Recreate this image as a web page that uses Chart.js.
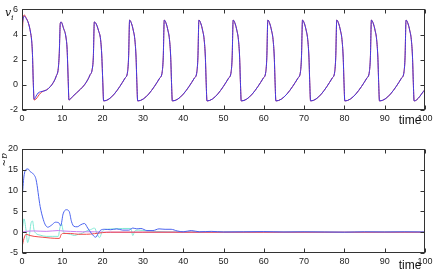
<!DOCTYPE html>
<html>
<head>
<meta charset="utf-8">
<script src="https://cdn.jsdelivr.net/npm/chart.js@4"></script>
<style>
  html, body { margin: 0; padding: 0; background: #fff; }
  #wrap { position: relative; width: 436px; height: 273px; }
  canvas { position: absolute; left: 0; }
  #c1 { top: 0; }
  #c2 { top: 130px; }
</style>
</head>
<body>
<div id="wrap">
  <canvas id="c1" width="436" height="130"></canvas>
  <canvas id="c2" width="436" height="143"></canvas>
</div>
<script>
// ejes
const xTicks = [0, 10, 20, 30, 40, 50, 60, 70, 80, 90, 100];
const yTicksTop = [-2, 0, 2, 4, 6];
const yTicksBottom = [-5, 0, 5, 10, 15, 20];

// panel superior: v_i
const tTop = [0, 0.3, 0.6, 1.0, 1.6, 2.1, 2.4, 2.6, 2.8, 3.0,
  3.4, 4.0, 4.6, 5.3, 6.1, 7.0, 7.8, 8.5, 9.0, 9.25,
  9.5, 9.7, 10.3, 10.9, 11.2, 11.45, 11.65, 12.5, 13.5, 14.5,
  15.5, 16.3, 16.9, 17.4, 17.7, 17.95, 18.4, 19.0, 19.5, 19.8,
  20.05, 20.25,
  25.6, 26.2, 26.45, 26.7, 27.2, 27.6, 28.0, 28.3, 28.5, 28.7,
  34.2, 34.8, 35.05, 35.3, 35.8, 36.2, 36.6, 36.9, 37.1, 37.3,
  42.8, 43.4, 43.65, 43.9, 44.4, 44.8, 45.2, 45.5, 45.7, 45.9,
  51.3, 51.9, 52.15, 52.4, 52.9, 53.3, 53.7, 54.0, 54.2, 54.4,
  59.9, 60.5, 60.75, 61.0, 61.5, 61.9, 62.3, 62.6, 62.8, 63.0,
  68.5, 69.1, 69.35, 69.6, 70.1, 70.5, 70.9, 71.2, 71.4, 71.6,
  77.0, 77.6, 77.85, 78.1, 78.6, 79.0, 79.4, 79.7, 79.9, 80.1,
  85.6, 86.2, 86.45, 86.7, 87.2, 87.6, 88.0, 88.3, 88.5, 88.7,
  94.2, 94.8, 95.05, 95.3, 95.8, 96.2, 96.6, 96.9, 97.1, 97.3,
  100];
const vBlue = [4.6, 5.3, 5.45, 5.3, 4.9, 4.2, 3.5, 2.4, 0.2, -1.15,
  -0.95, -0.65, -0.55, -0.5, -0.4, -0.15, 0.2, 0.7, 1.3, 2.5,
  4.9, 5.0, 4.5, 3.8, 2.8, 0.5, -1.2, -0.95, -0.65, -0.35,
  0.0, 0.4, 0.8, 1.2, 2.2, 5.0, 4.85, 4.3, 3.6, 2.3,
  0.2, -1.28,
  0.55, 1.05, 2.2, 5.15, 4.85, 4.35, 3.6, 2.2, 0.2, -1.28,
  0.55, 1.05, 2.2, 5.15, 4.85, 4.35, 3.6, 2.2, 0.2, -1.28,
  0.55, 1.05, 2.2, 5.15, 4.85, 4.35, 3.6, 2.2, 0.2, -1.28,
  0.55, 1.05, 2.2, 5.15, 4.85, 4.35, 3.6, 2.2, 0.2, -1.28,
  0.55, 1.05, 2.2, 5.15, 4.85, 4.35, 3.6, 2.2, 0.2, -1.28,
  0.55, 1.05, 2.2, 5.15, 4.85, 4.35, 3.6, 2.2, 0.2, -1.28,
  0.55, 1.05, 2.2, 5.15, 4.85, 4.35, 3.6, 2.2, 0.2, -1.28,
  0.55, 1.05, 2.2, 5.15, 4.85, 4.35, 3.6, 2.2, 0.2, -1.28,
  0.55, 1.05, 2.2, 5.15, 4.85, 4.35, 3.6, 2.2, 0.2, -1.28,
  -0.38];
const vRed = [3.2, 5.4, 5.55, 5.35, 4.9, 4.2, 3.5, 2.4, 0.2, -1.2,
  -1.15, -0.9, -0.65, -0.5, -0.4, -0.15, 0.2, 0.7, 1.3, 2.5,
  4.9, 5.0, 4.5, 3.8, 2.8, 0.5, -1.2, -0.95, -0.65, -0.35,
  0.0, 0.4, 0.8, 1.2, 2.2, 5.0, 4.85, 4.3, 3.6, 2.3,
  0.2, -1.28,
  0.55, 1.05, 2.2, 5.15, 4.85, 4.35, 3.6, 2.2, 0.2, -1.28,
  0.55, 1.05, 2.2, 5.15, 4.85, 4.35, 3.6, 2.2, 0.2, -1.28,
  0.55, 1.05, 2.2, 5.15, 4.85, 4.35, 3.6, 2.2, 0.2, -1.28,
  0.55, 1.05, 2.2, 5.15, 4.85, 4.35, 3.6, 2.2, 0.2, -1.28,
  0.55, 1.05, 2.2, 5.15, 4.85, 4.35, 3.6, 2.2, 0.2, -1.28,
  0.55, 1.05, 2.2, 5.15, 4.85, 4.35, 3.6, 2.2, 0.2, -1.28,
  0.55, 1.05, 2.2, 5.15, 4.85, 4.35, 3.6, 2.2, 0.2, -1.28,
  0.55, 1.05, 2.2, 5.15, 4.85, 4.35, 3.6, 2.2, 0.2, -1.28,
  0.55, 1.05, 2.2, 5.15, 4.85, 4.35, 3.6, 2.2, 0.2, -1.28,
  -0.38];

// panel inferior: a_i
const tBlueA = [0, 0.5, 1.0, 1.5, 2.0, 2.8, 3.5, 4.5, 5.3, 5.8,
  6.4, 7.4, 8.3, 9.2, 9.6, 10.2, 11.0, 11.7, 12.3, 12.9,
  13.7, 14.6, 15.5, 16.3, 17.2, 18.3, 18.8, 19.4, 20.5, 22,
  23.5, 25, 26.5, 27.5, 28.5, 29.5, 31, 32.5, 34, 35.5,
  37, 38.5, 40, 42, 44, 47, 50, 55, 60, 65,
  70, 75, 80, 85, 90, 95, 100];
const aBlue = [7.9, 13.5, 15.1, 15.2, 14.6, 14.0, 12.6, 6.2, 3.0, 1.75,
  1.2, 1.75, 2.4, 2.2, 1.5, 4.4, 5.4, 5.0, 2.5, 1.4,
  1.3, 1.8, 2.1, 1.0, -0.25, -1.2, -0.5, 0.4, 0.7, 0.6,
  0.8, 0.5, 0.5, 1.0, 0.8, 0.9, 0.4, 0.4, 0.8, 0.7,
  0.7, 0.3, 0.1, 0.4, 0.1, 0.2, 0.05, 0.1, 0.15, 0.05,
  0.1, 0.05, 0.0, 0.1, 0.05, 0.1, 0.05];

const tCyan = [0, 0.5, 1.0, 1.4, 1.8, 2.2, 2.6, 3.0, 3.5, 4.5,
  6, 7.5, 9, 9.4, 9.8, 10.3, 11, 12, 13, 14,
  15, 16, 17, 18, 18.6, 19.2, 20, 21, 23, 25,
  27, 27.5, 28, 29, 31, 33, 36, 40, 50, 60,
  70, 80, 90, 100];
const aCyan = [0, 3.2, 0.5, -2.5, -1.0, 2.0, 2.7, 0.5, -0.3, -0.7,
  -1.0, -1.0, -1.0, 1.0, 2.0, 0, -0.3, -0.5, -0.8, -0.5,
  -0.2, 0.3, 0.6, 1.0, -0.3, -1.3, 0.3, 0.7, 0.8, 0.9,
  0.9, -0.8, 0.3, 0.5, 0.3, 0.2, 0.1, 0.05, 0.1, 0.05,
  0.1, 0.0, 0.1, 0.0];

const tMag = [0, 1, 3, 6, 9, 10, 12, 15, 18, 20, 30, 50, 100];
const aMag = [0, 0.2, 0.3, 0.2, 0.4, 0.3, 0.2, 0.1, 0.1, 0, 0, 0, 0];

const tRedA = [0, 0.5, 1.0, 2, 3, 5, 7, 9.3, 9.7, 10.2,
  12, 14, 16, 18, 20, 22, 30, 40, 60, 80, 100];
const aRed = [-3.6, -1.5, -0.5, -0.8, -1.0, -1.2, -1.4, -1.5, -0.6, -0.3,
  -0.3, -0.5, -0.5, -0.35, -0.1, 0, 0, 0, 0, 0, 0];

function puntos(ts, vs) {
  return ts.map((t, i) => ({ x: t, y: vs[i] }));
}

function serie(ts, vs, color) {
  return {
    data: puntos(ts, vs),
    borderColor: color,
    borderWidth: 1,
    pointRadius: 0,
    cubicInterpolationMode: 'monotone',
    fill: false
  };
}

// marco tipo matlab con ticks hacia dentro
const marco = {
  id: 'marco',
  afterDraw(chart, args, opts) {
    const { ctx, chartArea: a, scales } = chart;
    const L = Math.round(a.left) + 0.5, R = Math.round(a.right) - 0.5;
    const T = Math.round(a.top) + 0.5, B = Math.round(a.bottom) - 0.5;
    ctx.save();
    ctx.strokeStyle = '#333';
    ctx.lineWidth = 1;
    ctx.strokeRect(L, T, R - L, B - T);
    ctx.beginPath();
    xTicks.forEach(v => {
      const px = Math.round(scales.x.getPixelForValue(v)) + 0.5;
      ctx.moveTo(px, B); ctx.lineTo(px, B - 4);
      ctx.moveTo(px, T); ctx.lineTo(px, T + 4);
    });
    opts.yTicks.forEach(v => {
      const py = Math.round(scales.y.getPixelForValue(v)) + 0.5;
      ctx.moveTo(L, py); ctx.lineTo(L + 4, py);
      ctx.moveTo(R, py); ctx.lineTo(R - 4, py);
    });
    ctx.stroke();

    ctx.fillStyle = '#111';
    ctx.font = '12px "Liberation Sans", Arial, sans-serif';
    ctx.textAlign = 'center';
    ctx.textBaseline = 'middle';
    ctx.fillText('time', a.right - 15, a.bottom + opts.timeDy);

    if (opts.label === 'v') {
      ctx.textAlign = 'left';
      ctx.textBaseline = 'alphabetic';
      ctx.font = 'italic 11px "DejaVu Serif", serif';
      ctx.fillText('v', 5, 16);
      ctx.font = 'italic 8px "DejaVu Serif", serif';
      ctx.fillText('i', 11, 20);
    } else {
      ctx.translate(2, 23);
      ctx.rotate(Math.PI / 2);
      ctx.textAlign = 'left';
      ctx.textBaseline = 'alphabetic';
      ctx.font = 'italic 10px "DejaVu Serif", serif';
      ctx.fillText('a', 0, 0);
      ctx.font = '9px "DejaVu Sans", sans-serif';
      ctx.fillText('~', 6, 1);
    }
    ctx.restore();
  }
};

function opciones(yMin, yMax, yTicks, padTop, label, timeDy) {
  return {
    responsive: false,
    animation: false,
    layout: { padding: { left: 0, right: 11, top: padTop, bottom: 0 } },
    plugins: {
      legend: { display: false },
      tooltip: { enabled: false },
      marco: { yTicks, label, timeDy }
    },
    scales: {
      x: {
        type: 'linear',
        min: 0, max: 100,
        grid: { display: false, drawTicks: false },
        border: { display: false },
        afterFit: s => { s.height = 20; },
        afterBuildTicks: s => { s.ticks = xTicks.map(v => ({ value: v })); },
        ticks: {
          padding: 3,
          maxRotation: 0,
          color: '#222',
          font: { size: 9, family: '"Liberation Sans", Arial, sans-serif' }
        }
      },
      y: {
        min: yMin, max: yMax,
        grid: { display: false, drawTicks: false },
        border: { display: false },
        afterFit: s => { s.width = 22; },
        afterBuildTicks: s => { s.ticks = yTicks.map(v => ({ value: v })); },
        ticks: {
          padding: 4,
          autoSkip: false,
          color: '#222',
          font: { size: 9, family: '"Liberation Sans", Arial, sans-serif' }
        }
      }
    }
  };
}

// el primer dataset queda encima
new Chart(document.getElementById('c1'), {
  type: 'line',
  data: {
    datasets: [
      serie(tTop, vBlue, '#3f3ae6'),
      serie(tTop, vRed, '#e83a3a')
    ]
  },
  options: opciones(-2, 6, yTicksTop, 6, 'v', 11),
  plugins: [marco]
});

new Chart(document.getElementById('c2'), {
  type: 'line',
  data: {
    datasets: [
      serie(tBlueA, aBlue, '#4a63ef'),
      serie(tRedA, aRed, '#f04a4a'),
      serie(tMag, aMag, '#c77cf0'),
      serie(tCyan, aCyan, '#7fe8d4')
    ]
  },
  options: opciones(-5, 20, yTicksBottom, 19, 'a', 13),
  plugins: [marco]
});
</script>
</body>
</html>
